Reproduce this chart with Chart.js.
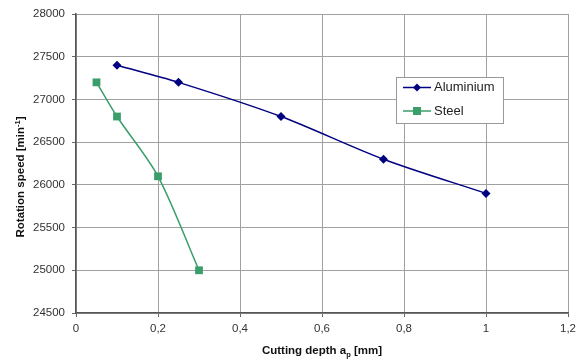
<!DOCTYPE html>
<html><head><meta charset="utf-8">
<script src="https://cdn.jsdelivr.net/npm/chart.js@4.4.0/dist/chart.umd.min.js"></script>
<style>html,body{margin:0;padding:0;background:#fff}#wrap{width:579px;height:360px}</style>
</head><body><div id="wrap"><canvas id="c" width="579" height="360"></canvas></div>
<script>
const seriesNames = ["Aluminium", "Steel"];
const aluDepth = [0.1, 0.25, 0.5, 0.75, 1.0];
const aluSpeed = [27400, 27200, 26800, 26300, 25900];
const steelDepth = [0.05, 0.1, 0.2, 0.3];
const steelSpeed = [27200, 26800, 26100, 25000];
const xTicks = [0, 0.2, 0.4, 0.6, 0.8, 1.0, 1.2];
const yTicks = [24500, 25000, 25500, 26000, 26500, 27000, 27500, 28000];
const xTitleParts = [["Cutting depth a", 0], ["p", 1], [" [mm]", 0]];
const yTitleParts = [["Rotation speed [min", 0], ["-1", -1], ["]", 0]];

const FONT = "'Liberation Sans', Arial, 'DejaVu Sans', sans-serif";

function drawRich(ctx, parts, cx, cy) {
  const big = 'bold 11.5px ' + FONT, small = 'bold 7.5px ' + FONT;
  let total = 0;
  const widths = parts.map(([t, k]) => { ctx.font = k ? small : big; const w = ctx.measureText(t).width; total += w; return w; });
  let x = cx - total / 2;
  ctx.textBaseline = 'middle';
  ctx.textAlign = 'left';
  parts.forEach(([t, k], i) => {
    ctx.font = k ? small : big;
    ctx.fillText(t, x, cy + (k === 1 ? 3.5 : k === -1 ? -3.5 : 0));
    x += widths[i];
  });
}

const extras = {
  id: 'extras',
  afterDraw(chart) {
    const ctx = chart.ctx;
    const ca = chart.chartArea;
    ctx.save();
    ctx.fillStyle = '#111';
    drawRich(ctx, xTitleParts, (ca.left + ca.right) / 2, 351);
    ctx.save();
    ctx.translate(21, 177);
    ctx.rotate(-Math.PI / 2);
    drawRich(ctx, yTitleParts, 0, 0);
    ctx.restore();

    const x0 = 396, y0 = 77, w = 107, h = 46;
    ctx.fillStyle = '#fff';
    ctx.fillRect(x0, y0, w, h);
    ctx.strokeStyle = '#999';
    ctx.lineWidth = 1;
    ctx.strokeRect(x0 + 0.5, y0 + 0.5, w, h);
    chart.data.datasets.forEach((ds, i) => {
      const y = 87.5 + i * 23.5;
      ctx.strokeStyle = ds.borderColor;
      ctx.lineWidth = 1.5;
      ctx.beginPath(); ctx.moveTo(403, y); ctx.lineTo(431, y); ctx.stroke();
      ctx.fillStyle = ds.backgroundColor;
      if (ds.pointStyle === 'rectRot') {
        const r = 4;
        ctx.beginPath(); ctx.moveTo(417, y - r); ctx.lineTo(417 + r, y); ctx.lineTo(417, y + r); ctx.lineTo(417 - r, y); ctx.closePath(); ctx.fill();
      } else {
        ctx.fillRect(417 - 4, y - 4, 8, 8);
      }
      ctx.fillStyle = '#222';
      ctx.font = '13px ' + FONT;
      ctx.textBaseline = 'middle';
      ctx.textAlign = 'left';
      ctx.fillText(ds.label, 434, y);
    });
    ctx.restore();
  }
};

new Chart(document.getElementById('c'), {
  type: 'line',
  data: {
    datasets: [
      {
        label: seriesNames[0],
        data: aluDepth.map((x, i) => ({x, y: aluSpeed[i]})),
        borderColor: '#000080', backgroundColor: '#000080',
        borderWidth: 1.5, pointStyle: 'rectRot', pointRadius: 4.5, pointBorderWidth: 0,
        tension: 0.3
      },
      {
        label: seriesNames[1],
        data: steelDepth.map((x, i) => ({x, y: steelSpeed[i]})),
        borderColor: '#3a9e6a', backgroundColor: '#3a9e6a',
        borderWidth: 1.5, pointStyle: 'rect', pointRadius: 5.5, pointBorderWidth: 0,
        tension: 0.3
      }
    ]
  },
  options: {
    responsive: false, animation: false,
    layout: { padding: { left: 0, right: 11, top: 14, bottom: 0 } },
    plugins: { legend: { display: false }, tooltip: { enabled: false } },
    scales: {
      x: {
        type: 'linear', min: 0, max: 1.2,
        afterBuildTicks: s => { s.ticks = xTicks.map(v => ({value: v})); },
        afterFit: s => { s.height = 47; s.paddingLeft = 0; s.paddingRight = 0; },
        grid: { color: '#a0a0a0', lineWidth: 1, tickLength: 4, tickColor: '#666' },
        border: { color: '#555', width: 1.5 },
        ticks: { color: '#333', font: { size: 11.5, family: FONT }, padding: 5, maxRotation: 0,
          callback: v => String(v).replace('.', ',') },
        title: { display: false }
      },
      y: {
        min: 24500, max: 28000,
        afterBuildTicks: s => { s.ticks = yTicks.map(v => ({value: v})); },
        afterFit: s => { s.width = 76; s.paddingTop = 0; s.paddingBottom = 0; },
        grid: { color: '#a0a0a0', lineWidth: 1, tickLength: 4, tickColor: '#666' },
        border: { color: '#555', width: 1.5 },
        ticks: { color: '#333', font: { size: 11.5, family: FONT }, padding: 7,
          callback: v => String(v) },
        title: { display: false }
      }
    }
  },
  plugins: [extras]
});
</script>
</body></html>
